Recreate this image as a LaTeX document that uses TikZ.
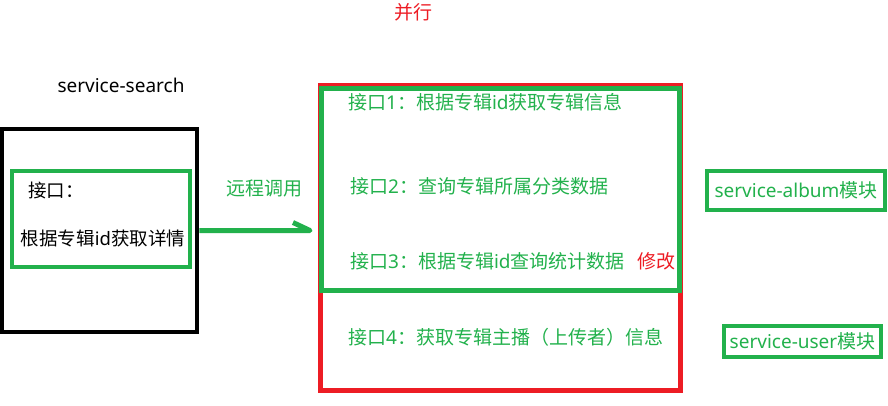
\documentclass[tikz,border=0pt]{standalone}
\usepackage{fontspec}
\setmainfont{Noto Sans}
\newfontfamily\cjk{Noto Sans CJK SC}
\newcommand{\zh}[1]{{\cjk #1}}
\definecolor{paintgreen}{RGB}{34,177,76}
\definecolor{paintred}{RGB}{237,28,36}
\begin{document}
\begin{tikzpicture}[x=1pt,y=-1pt,
	blackbox/.style={draw=black,line width=4.5pt,inner sep=0pt},
	greenbox/.style={draw=paintgreen,line width=4.5pt,inner sep=0pt},
	redbox/.style={draw=paintred,line width=5pt,inner sep=0pt},
	lbl/.style={inner sep=0pt,font=\fontsize{19}{23}\selectfont},
	biglbl/.style={inner sep=0pt,font=\fontsize{18.5}{23}\selectfont},
	callline/.style={draw=paintgreen,line width=5pt,line join=round}]
	\useasboundingbox (0,0) rectangle (888,405);
	% caller side
	\node[lbl] (searchname) at (121,85) {service-search};
	\node[blackbox,minimum width=195pt,minimum height=203pt] (search) at (99.5,230.5) {};
	\node[greenbox,minimum width=178pt,minimum height=96pt] (detail) at (101,219) {};
	\node[biglbl,anchor=west] (detailtop) at (28,190) {\zh{接口：}};
	\node[biglbl] (detailtext) at (103,238) {\zh{根据专辑}id\zh{获取详情}};
	% remote call
	\node[lbl,text=paintgreen] (calllbl) at (264,188) {\zh{远程调用}};
	\coordinate (tip) at (310,230.5);
	\draw[callline] (search.east) -- (tip) -- ++(-17,-8);
	% parallel calls
	\node[lbl,text=paintred] (parallel) at (413,12) {\zh{并行}};
	\node[redbox,minimum width=360pt,minimum height=305pt] (all) at (500,237.5) {};
	\node[greenbox,line width=5pt,minimum width=358pt,minimum height=202pt] (album) at (500,189) {};
	\node[lbl,text=paintgreen,anchor=west] (if1) at (348,102) {\zh{接口}1\zh{：根据专辑}id\zh{获取专辑信息}};
	\node[lbl,text=paintgreen,anchor=west] (if2) at (350,186) {\zh{接口}2\zh{：查询专辑所属分类数据}};
	\node[lbl,text=paintgreen,anchor=west] (if3) at (350,261) {\zh{接口}3\zh{：根据专辑}id\zh{查询统计数据}};
	\node[lbl,text=paintred] (change) at (656,261) {\zh{修改}};
	\node[lbl,text=paintgreen,anchor=west] (if4) at (348,337) {\zh{接口}4\zh{：获取专辑主播（上传者）信息}};
	% modules
	\node[greenbox,lbl,text=paintgreen,line width=4.5pt,minimum width=178pt,minimum height=39pt] (albummod) at (796,190.5) {service-album\zh{模块}};
	\node[greenbox,lbl,text=paintgreen,line width=4.5pt,minimum width=157pt,minimum height=31pt] (usermod) at (802.5,341.5) {service-user\zh{模块}};
\end{tikzpicture}
\end{document}
